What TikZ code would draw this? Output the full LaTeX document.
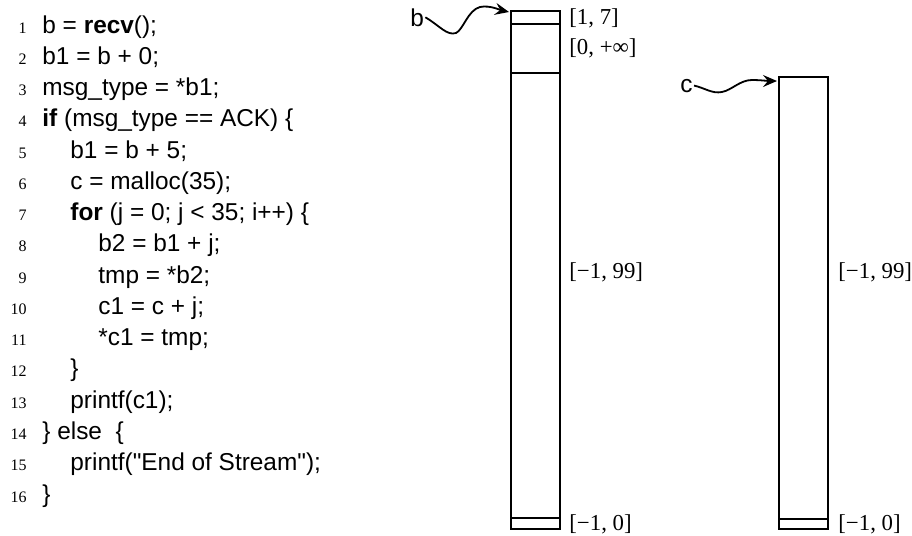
\documentclass[tikz,border=0pt]{standalone}
\usepackage{fontspec}
\setmainfont{Liberation Serif}
\newfontfamily\codefont{Liberation Sans}
\usetikzlibrary{arrows.meta}

\tikzset{
  codeline/.style={anchor=base west, inner sep=0pt, font=\codefont\fontsize{12.2}{14}\selectfont},
  lineno/.style={anchor=base east, inner sep=0pt, font=\fontsize{8}{9}\selectfont},
  rangelbl/.style={anchor=west, inner sep=0pt, font=\fontsize{11.4}{12}\selectfont},
  varname/.style={anchor=base west, inner sep=0.5pt, font=\codefont\fontsize{12.2}{14}\selectfont},
  cell/.style={line width=1pt},
  ptr/.style={-{Stealth[length=7pt,width=6pt,inset=2.5pt]}, line width=0.9pt}
}

\begin{document}
\begin{tikzpicture}[x=0.5pt, y=-0.5pt]
        \useasboundingbox (0,0) rectangle (912,536);
        % code listing
        \foreach \n/\lvl/\txt in {1/0/{b = \textbf{recv}();}, 2/0/{b1 = b + 0;}, 3/0/{msg\_type = *b1;},
            4/0/{\textbf{if} (msg\_type == ACK) \{}, 5/1/{b1 = b + 5;}, 6/1/{c = malloc(35);},
            7/1/{\textbf{for} (j = 0; j < 35; i++) \{}, 8/2/{b2 = b1 + j;}, 9/2/{tmp = *b2;},
            10/2/{c1 = c + j;}, 11/2/{*c1 = tmp;}, 12/1/{\}}, 13/1/{printf(c1);},
            14/0/{\} else~~\{}, 15/1/{printf("End of Stream");}, 16/0/{\}}}{
          \node[lineno] (num\n) at (27, 33+31.27*\n-31.27) {\n};
          \node[codeline] (code\n) at (42+28*\lvl, 33+31.27*\n-31.27) {\txt};
        }
        % buffer b
        \draw[cell] (511,11) rectangle (560,529);
        \draw[cell] (511,24) -- (560,24);
        \draw[cell] (511,73) -- (560,73);
        \draw[cell] (511,518) -- (560,518);
        \node[rangelbl] (b17) at (569,18) {[1, 7]};
        \node[rangelbl] (binf) at (569,48) {[0, +∞]};
        \node[rangelbl] (bmid) at (569,272) {[−1, 99]};
        \node[rangelbl] (blow) at (569,524) {[−1, 0]};
        % buffer c
        \draw[cell] (779,77) rectangle (828,529);
        \draw[cell] (779,519) -- (828,519);
        \node[rangelbl] (cmid) at (838,272) {[−1, 99]};
        \node[rangelbl] (clow) at (838,524) {[−1, 0]};
        % pointers
        \node[varname] (bvar) at (409,26) {b};
        \node[varname] (cvar) at (679,92) {c};
        \coordinate (btop) at (509,12);
        \coordinate (ctop) at (777,81);
        \draw[ptr] (bvar.east) .. controls (440,26) and (447,36) .. (456,33)
          .. controls (463,30) and (468,10) .. (480,7)
          .. controls (490,5) and (500,10) .. (btop);
        \draw[ptr] (cvar.east) .. controls (705,88) and (712,94) .. (722,92)
          .. controls (732,90) and (740,80) .. (752,80)
          .. controls (760,80) and (768,81) .. (ctop);
      \end{tikzpicture}
\end{document}
